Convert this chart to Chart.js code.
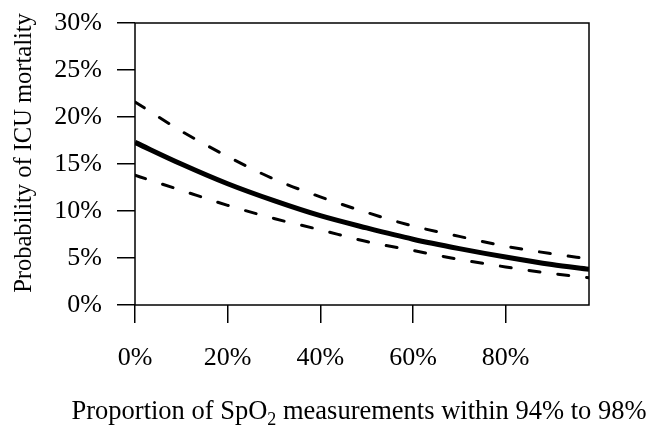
<!DOCTYPE html>
<html>
<head>
<meta charset="utf-8">
<script src="https://cdn.jsdelivr.net/npm/chart.js@4/dist/chart.umd.min.js"></script>
<style>
  html, body { margin: 0; padding: 0; background: #fff; }
  #wrap { width: 662px; height: 427px; }
</style>
</head>
<body>
<div id="wrap"><canvas id="myChart" width="662" height="427"></canvas></div>
<script>
// proportion of SpO2 readings in range (%), and predicted ICU mortality (%)
const proportion = [0, 10, 20, 30, 40, 50, 60, 70, 80, 90, 98];
const fitted = [17.3, 15.0, 12.9, 11.1, 9.5, 8.2, 7.0, 6.0, 5.1, 4.3, 3.8];
const upperCI = [21.6, 18.5, 15.8, 13.4, 11.5, 9.85, 8.4, 7.3, 6.25, 5.45, 4.9];
const lowerCI = [13.8, 12.2, 10.6, 9.2, 8.0, 6.75, 5.8, 4.85, 4.05, 3.35, 2.9];

const xTicks = [0, 20, 40, 60, 80];
const yTicks = [0, 5, 10, 15, 20, 25, 30];

const FONT = "'Liberation Serif', 'Times New Roman', serif";

const toPoints = ys => proportion.map((x, i) => ({ x: x, y: ys[i] }));

// box round the plot area plus the two axis titles
const framePlugin = {
  id: 'frame',
  afterDraw(chart) {
    const { ctx, chartArea: a } = chart;
    ctx.save();
    ctx.strokeStyle = '#000';
    ctx.lineWidth = 1.5;
    ctx.strokeRect(a.left, a.top, a.right - a.left, a.bottom - a.top);

    ctx.fillStyle = '#000';
    // y title
    ctx.save();
    ctx.translate(25, 153);
    ctx.rotate(-Math.PI / 2);
    ctx.font = '24.5px ' + FONT;
    ctx.textAlign = 'center';
    ctx.textBaseline = 'middle';
    ctx.fillText('Probability of ICU mortality', 0, 0);
    ctx.restore();

    // x title with subscript 2
    const big = '26.5px ' + FONT, small = '18px ' + FONT;
    const p1 = 'Proportion of SpO', p2 = '2', p3 = ' measurements within 94% to 98%';
    ctx.font = big;
    const w1 = ctx.measureText(p1).width, w3 = ctx.measureText(p3).width;
    ctx.font = small;
    const w2 = ctx.measureText(p2).width;
    let x = 359 - (w1 + w2 + w3) / 2;
    const base = 419;
    ctx.textAlign = 'left';
    ctx.textBaseline = 'alphabetic';
    ctx.font = big;
    ctx.fillText(p1, x, base);
    x += w1;
    ctx.font = small;
    ctx.fillText(p2, x, base + 6);
    x += w2;
    ctx.font = big;
    ctx.fillText(p3, x, base);
    ctx.restore();
  }
};

const ctx = document.getElementById('myChart').getContext('2d');

new Chart(ctx, {
  type: 'line',
  data: {
    datasets: [
      {
        label: 'Upper 95% CI',
        data: toPoints(upperCI),
        borderColor: '#000',
        borderWidth: 3,
        borderDash: [11, 18],
        borderCapStyle: 'round',
      },
      {
        label: 'Lower 95% CI',
        data: toPoints(lowerCI),
        borderColor: '#000',
        borderWidth: 3,
        borderDash: [11, 18],
        borderCapStyle: 'round',
      },
      {
        label: 'Predicted',
        data: toPoints(fitted),
        borderColor: '#000',
        borderWidth: 5,
      },
    ],
  },
  options: {
    responsive: false,
    animation: false,
    layout: { padding: { top: 23, right: 73, left: 0, bottom: 0 } },
    elements: {
      point: { radius: 0 },
      line: { cubicInterpolationMode: 'monotone', fill: false },
    },
    plugins: {
      legend: { display: false },
      tooltip: { enabled: false },
    },
    scales: {
      x: {
        type: 'linear',
        min: 0,
        max: 98,
        afterFit(scale) {
          scale.height = 122;
          scale.paddingLeft = 0;
          scale.paddingRight = 0;
        },
        afterBuildTicks(scale) { scale.ticks = xTicks.map(v => ({ value: v })); },
        border: { display: false },
        grid: {
          drawOnChartArea: false,
          drawTicks: true,
          tickLength: 18,
          color: '#000',
          lineWidth: 1.5,
        },
        ticks: {
          padding: 20,
          color: '#000',
          maxRotation: 0,
          font: { family: FONT, size: 26 },
          callback: v => v + '%',
        },
      },
      y: {
        type: 'linear',
        min: 0,
        max: 30,
        afterFit(scale) {
          scale.width = 135;
          scale.paddingTop = 0;
          scale.paddingBottom = 0;
        },
        afterBuildTicks(scale) { scale.ticks = yTicks.map(v => ({ value: v })); },
        border: { display: false },
        grid: {
          drawOnChartArea: false,
          drawTicks: true,
          tickLength: 18,
          color: '#000',
          lineWidth: 1.5,
        },
        ticks: {
          padding: 15,
          color: '#000',
          font: { family: FONT, size: 26 },
          callback: v => v + '%',
        },
      },
    },
  },
  plugins: [framePlugin],
});
</script>
</body>
</html>
